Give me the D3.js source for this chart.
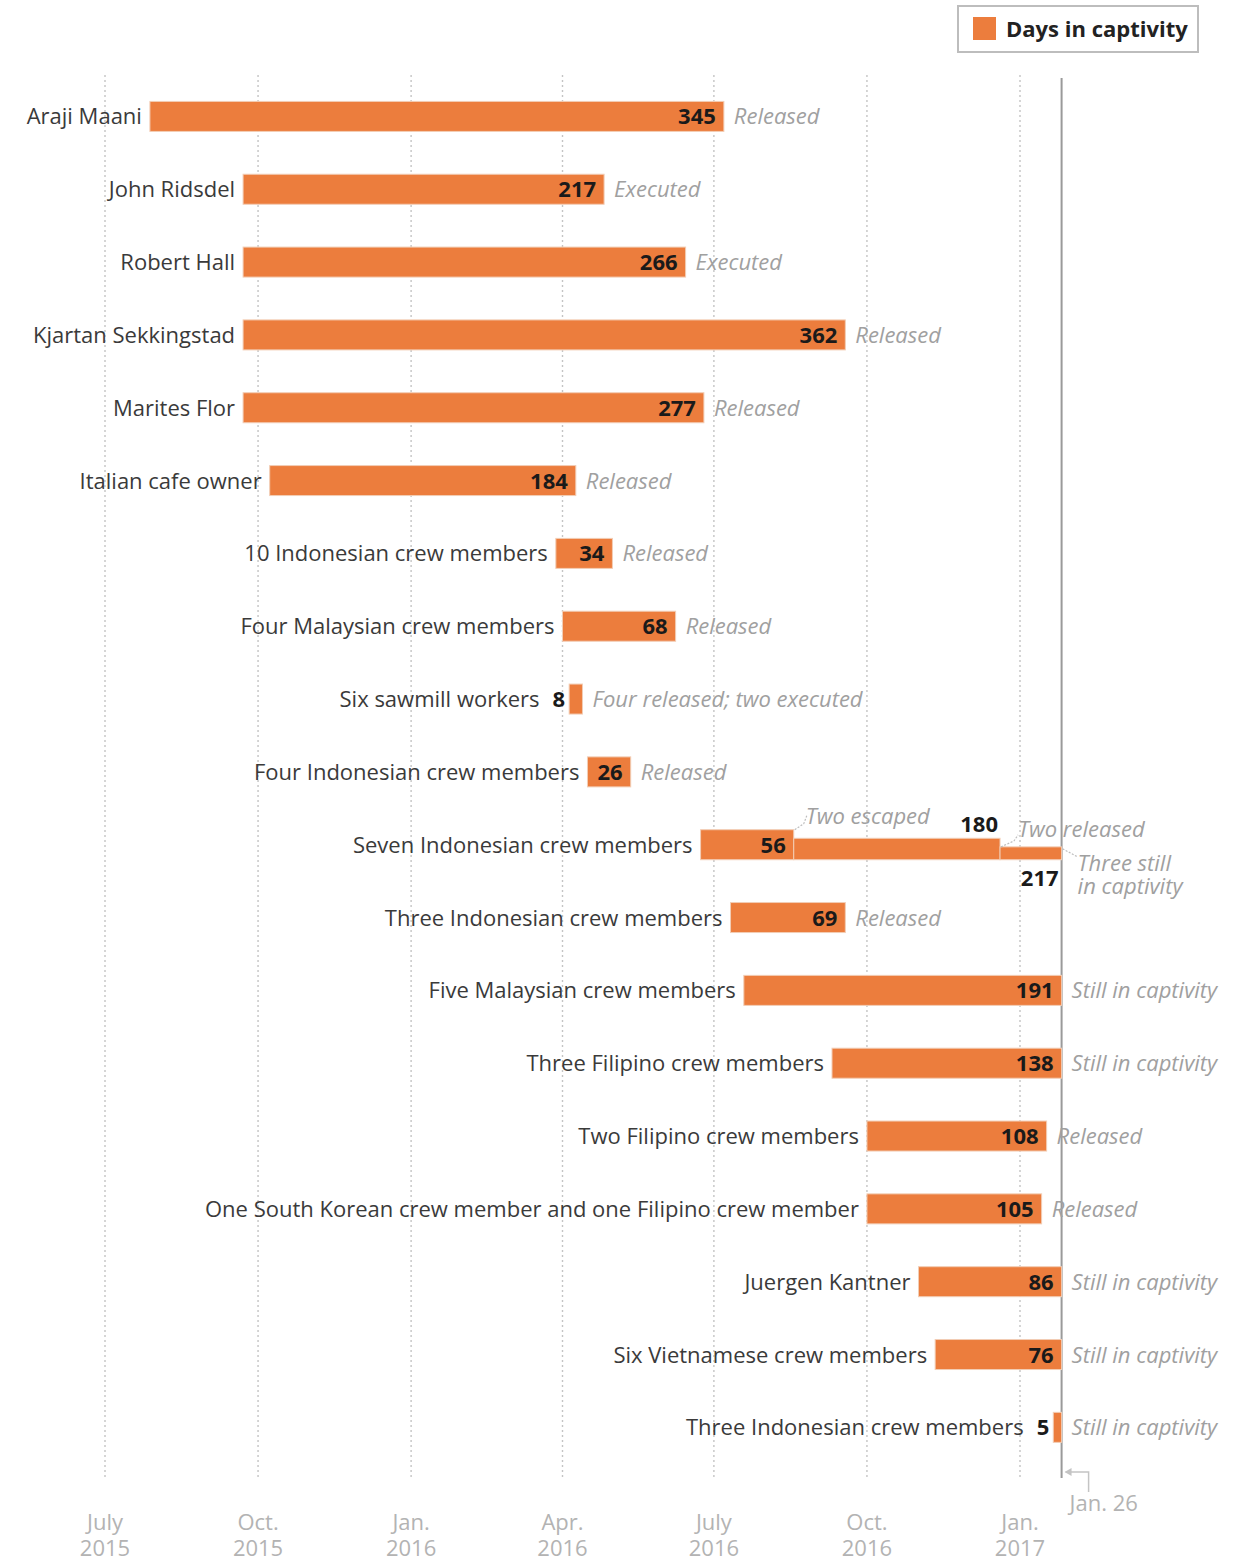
<!DOCTYPE html>
<html><head><meta charset="utf-8">
<script src="https://cdn.jsdelivr.net/npm/d3@7"></script>
<style>
html,body{margin:0;padding:0;background:#fff;}
svg{display:block;font-family:"Open Sans",sans-serif;}
</style></head>
<body>
<svg id="chart" width="1237" height="1564"></svg>
<script>
const names = ["Araji Maani","John Ridsdel","Robert Hall","Kjartan Sekkingstad","Marites Flor","Italian cafe owner","10 Indonesian crew members","Four Malaysian crew members","Six sawmill workers","Four Indonesian crew members","Seven Indonesian crew members","Three Indonesian crew members","Five Malaysian crew members","Three Filipino crew members","Two Filipino crew members","One South Korean crew member and one Filipino crew member","Juergen Kantner","Six Vietnamese crew members","Three Indonesian crew members"];
const startDates = ["2015-07-28","2015-09-22","2015-09-22","2015-09-22","2015-09-22","2015-10-08","2016-03-28","2016-04-01","2016-04-05","2016-04-16","2016-06-23","2016-07-11","2016-07-19","2016-09-10","2016-10-01","2016-10-01","2016-11-01","2016-11-11","2017-01-21"];
const days = [345,217,266,362,277,184,34,68,8,26,217,69,191,138,108,105,86,76,5];
const statuses = ["Released","Executed","Executed","Released","Released","Released","Released","Released","Four released; two executed","Released","","Released","Still in captivity","Still in captivity","Released","Released","Still in captivity","Still in captivity","Still in captivity"];

// step bar (Seven Indonesian crew members)
const stepRow = 10;
const stepDays = [56,180,217];
const stepPeople = [7,5,3];
const stepNotes = [["Two escaped"],["Two released"],["Three still","in captivity"]];

const tickDates = ["2015-07-01","2015-10-01","2016-01-01","2016-04-01","2016-07-01","2016-10-01","2017-01-01"];
const tickMonths = ["July","Oct.","Jan.","Apr.","July","Oct.","Jan."];
const tickYears = ["2015","2015","2016","2016","2016","2016","2017"];
const refDate = "2017-01-26";
const refLabel = "Jan. 26";
const legendLabel = "Days in captivity";

const ORANGE = "#ec7d3d";
const svg = d3.select("#chart");
const parse = d3.utcParse("%Y-%m-%d");

const x = d3.scaleUtc().domain([parse("2015-07-01"), parse("2017-01-01")]).range([105, 1020]);
const y = d3.scaleBand().domain(d3.range(names.length)).range([80, 80 + 72.83 * names.length]);
const barH = 30;
const cy = i => y(i) + y.bandwidth() / 2;

const startX = i => x(parse(startDates[i]));
const endX = (i, d) => x(d3.utcDay.offset(parse(startDates[i]), d));

// gridlines
const gTop = 75, gBot = 1480;
svg.append("g").selectAll("line").data(tickDates).join("line")
  .attr("x1", d => x(parse(d))).attr("x2", d => x(parse(d)))
  .attr("y1", gTop).attr("y2", gBot)
  .attr("stroke", "#c4c4c4").attr("stroke-width", 1.4).attr("stroke-dasharray", "2,3");

// axis labels
const ax = svg.append("g").attr("fill", "#b3b3b3").attr("font-size", 22).attr("text-anchor", "middle");
tickDates.forEach((d, k) => {
  const t = ax.append("text").attr("x", x(parse(d))).attr("y", 1530);
  t.append("tspan").attr("x", x(parse(d))).text(tickMonths[k]);
  t.append("tspan").attr("x", x(parse(d))).attr("dy", 26).text(tickYears[k]);
});

// reference line Jan 26
const rx = x(parse(refDate));
svg.append("line").attr("x1", rx).attr("x2", rx).attr("y1", 78).attr("y2", 1478)
  .attr("stroke", "#9a9a9a").attr("stroke-width", 2);
svg.append("path").attr("d", `M${rx + 4},1472 H${rx + 27} V1492`).attr("fill", "none").attr("stroke", "#c4c4c4").attr("stroke-width", 1.5);
svg.append("path").attr("d", `M${rx + 3},1472 l7,-4 v8 z`).attr("fill", "#c4c4c4");
svg.append("text").attr("x", rx + 8).attr("y", 1511).attr("font-size", 22).attr("fill", "#b3b3b3").text(refLabel);

// bars
const g = svg.append("g");
names.forEach((name, i) => {
  const x0 = startX(i), x1 = endX(i, days[i]);
  const top = cy(i) - barH / 2;
  if (i === stepRow) {
    let prev = x0;
    stepDays.forEach((sd, k) => {
      const xe = endX(i, sd);
      const h = barH * stepPeople[k] / stepPeople[0];
      g.append("rect").attr("x", prev).attr("y", top + barH - h).attr("width", xe - prev).attr("height", h)
        .attr("fill", ORANGE).attr("stroke", "#f2cdb5").attr("stroke-width", 1);
      prev = xe;
    });
  } else {
    g.append("rect").attr("x", x0).attr("y", top).attr("width", Math.max(1, x1 - x0)).attr("height", barH)
      .attr("fill", ORANGE).attr("stroke", "#f2cdb5").attr("stroke-width", 1);
  }
  // number label
  const inside = (x1 - x0) > 30;
  const firstEnd = i === stepRow ? endX(i, stepDays[0]) : x1;
  const numText = i === stepRow ? String(stepDays[0]) : String(days[i]);
  const num = g.append("text").attr("font-size", 22).attr("font-weight", 700).attr("fill", "#1a1a1a")
    .attr("text-anchor", "end").attr("y", cy(i) + 8).text(numText);
  let nameRight;
  if (inside) {
    num.attr("x", firstEnd - 8);
    nameRight = x0 - 8;
  } else {
    num.attr("x", x0 - 4);
    nameRight = x0 - 4 - num.node().getComputedTextLength() - 13;
  }
  g.append("text").attr("x", nameRight).attr("y", cy(i) + 8).attr("text-anchor", "end")
    .attr("font-size", 22).attr("fill", "#3a3a3a").text(name);
  if (statuses[i]) {
    g.append("text").attr("x", x1 + 10).attr("y", cy(i) + 8).attr("font-size", 22)
      .attr("font-style", "italic").attr("fill", "#a0a0a0").text(statuses[i]);
  }
});

// step annotations
{
  const i = stepRow, top = cy(i) - barH / 2, bot = top + barH;
  const xa = endX(i, stepDays[0]), xb = endX(i, stepDays[1]), xc = endX(i, stepDays[2]);
  const top2 = bot - barH * stepPeople[1] / stepPeople[0];
  const top3 = bot - barH * stepPeople[2] / stepPeople[0];
  const lead = (p) => g.append("path").attr("d", p).attr("fill", "none").attr("stroke", "#bdbdbd").attr("stroke-width", 1.2).attr("stroke-dasharray", "2,1.5");
  const ital = (tx, ty, lines) => {
    const t = g.append("text").attr("x", tx).attr("y", ty).attr("font-size", 22).attr("font-style", "italic").attr("fill", "#a0a0a0");
    lines.forEach((l, k) => t.append("tspan").attr("x", tx).attr("dy", k ? 23 : 0).text(l));
  };
  const bold = (tx, ty, t) => g.append("text").attr("x", tx).attr("y", ty).attr("font-size", 22).attr("font-weight", 700).attr("fill", "#1a1a1a").attr("text-anchor", "end").text(t);
  lead(`M${xa + 1},${top} L${xa + 10},${top - 6} L${xa + 13},${top - 14}`);
  ital(xa + 12, top - 6, stepNotes[0]);
  bold(xb - 2, top2 - 6, String(stepDays[1]));
  lead(`M${xb + 1},${top3} L${xb + 14},${top3 - 6} L${xb + 18},${top3 - 12}`);
  ital(xb + 18, top3 - 10, stepNotes[1]);
  bold(xc - 3, bot + 26, String(stepDays[2]));
  lead(`M${xc + 1},${top3 + 2} L${xc + 16},${top3 + 10}`);
  ital(xc + 16, top3 + 24, stepNotes[2]);
}

// legend
const lg = svg.append("g");
lg.append("rect").attr("x", 958).attr("y", 6).attr("width", 240).attr("height", 46)
  .attr("fill", "#fff").attr("stroke", "#bdbdbd").attr("stroke-width", 2);
lg.append("rect").attr("x", 973).attr("y", 17).attr("width", 23).attr("height", 23).attr("fill", ORANGE);
lg.append("text").attr("x", 1006).attr("y", 37).attr("font-size", 22).attr("font-weight", 700)
  .attr("fill", "#222").text(legendLabel);
</script>
</body></html>
